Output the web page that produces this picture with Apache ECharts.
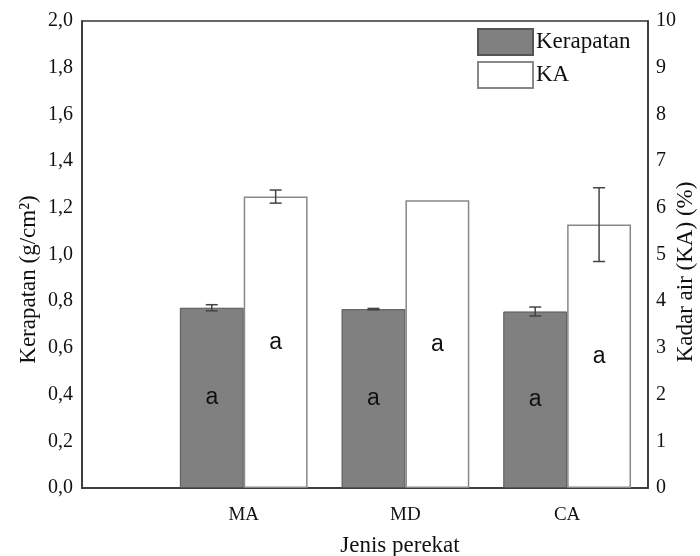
<!DOCTYPE html>
<html><head><meta charset="utf-8">
<script src="https://cdn.jsdelivr.net/npm/echarts@6/dist/echarts.min.js"></script>
<style>html,body{margin:0;padding:0;background:#fff}#c{width:700px;height:556px}</style>
</head><body><div id="c"></div>
<script>
// ---- data ----
const categories = ['MA', 'MD', 'CA'];
const kerapatan = [0.772, 0.766, 0.756];
const kerapatanErr = [0.013, 0.003, 0.019];
const kadarAir = [6.24, 6.16, 5.64];
const kadarAirErr = [0.14, 0.0, 0.79];
const kerapatanLetters = ['a', 'a', 'a'];
const kadarAirLetters = ['a', 'a', 'a'];

// ---- layout helpers: half-step slots so the axis runs from 0 to 3.5 category units ----
const SLOTS = 8;
const slotOf = i => 2 * (i + 1);
const axisData = Array.from({length: SLOTS}, () => '');
categories.forEach((c, i) => { axisData[slotOf(i)] = c; });
function slotSeries(vals) {
  const arr = Array.from({length: SLOTS}, () => '-');
  vals.forEach((v, i) => { arr[slotOf(i)] = v; });
  return arr;
}
const BAR_FRAC = 0.79;
const serif = 'Liberation Serif, Times New Roman, serif';
const sans = 'Liberation Sans, Arial, sans-serif';

function errRender(side, cap) {
  return function (params, api) {
    const x = api.value(0), y = api.value(1), e = api.value(2);
    if (!e) return null;
    const band = api.size([1, 0])[0];
    const off = side * band * BAR_FRAC / 2;
    const t = api.coord([x, y + e]);
    const b = api.coord([x, y - e]);
    const cx = t[0] + off;
    const st = {stroke: '#444', lineWidth: 1.5};
    return {type: 'group', children: [
      {type: 'line', shape: {x1: cx, y1: t[1], x2: cx, y2: b[1]}, style: st},
      {type: 'line', shape: {x1: cx - cap, y1: t[1], x2: cx + cap, y2: t[1]}, style: st},
      {type: 'line', shape: {x1: cx - cap, y1: b[1], x2: cx + cap, y2: b[1]}, style: st}
    ]};
  };
}

const chart = echarts.init(document.getElementById('c'), null, {renderer: 'canvas'});
chart.setOption({
  animation: false,
  backgroundColor: '#fff',
  grid: {left: 82, right: 52, top: 21, bottom: 68, containLabel: false, outerBoundsMode: 'none',
    show: true, borderColor: '#333', borderWidth: 1.5, backgroundColor: 'transparent'},
  legend: {
    orient: 'vertical', left: 477, top: 28, padding: 0, itemGap: 5,
    itemWidth: 55, itemHeight: 26, icon: 'rect',
    textStyle: {fontFamily: serif, fontSize: 23, color: '#111', padding: [0, 0, 0, -2]},
    data: ['Kerapatan', 'KA']
  },
  xAxis: {
    type: 'category', data: axisData, boundaryGap: false,
    axisLine: {show: true, lineStyle: {color: '#333', width: 1.5}},
    axisTick: {show: false}, splitLine: {show: false},
    axisLabel: {interval: 0, fontFamily: serif, fontSize: 19, color: '#111', margin: 18},
    name: 'Jenis perekat', nameLocation: 'middle', nameGap: 46, nameMoveOverlap: false,
    nameTextStyle: {fontFamily: serif, fontSize: 23, color: '#111', padding: [0, 0, 0, 70]}
  },
  yAxis: [
    {
      type: 'value', min: 0, max: 2, interval: 0.2, position: 'left',
      axisLine: {show: true, lineStyle: {color: '#333', width: 1.5}},
      axisTick: {show: false}, splitLine: {show: false},
      axisLabel: {fontFamily: serif, fontSize: 20, color: '#111', margin: 9,
        formatter: v => v.toFixed(1).replace('.', ',')},
      name: 'Kerapatan (g/cm²)', nameLocation: 'middle', nameGap: 42, nameRotate: 90, nameMoveOverlap: false,
      nameTextStyle: {fontFamily: serif, fontSize: 23, color: '#111', padding: [0, 50, 0, 0]}
    },
    {
      type: 'value', min: 0, max: 10, interval: 1, position: 'right',
      axisLine: {show: true, lineStyle: {color: '#333', width: 1.5}},
      axisTick: {show: false}, splitLine: {show: false},
      axisLabel: {fontFamily: serif, fontSize: 20, color: '#111', margin: 8},
      name: 'Kadar air (KA) (%)', nameLocation: 'middle', nameGap: 26, nameRotate: 90, nameMoveOverlap: false,
      nameTextStyle: {fontFamily: serif, fontSize: 23, color: '#111', padding: [0, 35, 0, 0]}
    }
  ],
  series: [
    {
      name: 'Kerapatan', type: 'bar', yAxisIndex: 0, data: slotSeries(kerapatan),
      barWidth: (BAR_FRAC * 100) + '%', barGap: '0%',
      itemStyle: {color: '#808080', borderColor: '#555', borderWidth: 1},
      label: {show: true, position: 'inside', fontFamily: sans, fontSize: 23, color: '#111',
        formatter: p => kerapatanLetters[(p.dataIndex / 2) - 1]}
    },
    {
      name: 'KA', type: 'bar', yAxisIndex: 1, data: slotSeries(kadarAir),
      barWidth: (BAR_FRAC * 100) + '%', barGap: '0%',
      itemStyle: {color: '#fff', borderColor: '#888', borderWidth: 1.5},
      label: {show: true, position: 'inside', fontFamily: sans, fontSize: 23, color: '#111',
        formatter: p => kadarAirLetters[(p.dataIndex / 2) - 1]}
    },
    {
      type: 'custom', yAxisIndex: 0, z: 5, renderItem: errRender(-1, 6),
      data: kerapatan.map((v, i) => [slotOf(i), v, kerapatanErr[i]])
    },
    {
      type: 'custom', yAxisIndex: 1, z: 5, renderItem: errRender(1, 6),
      data: kadarAir.map((v, i) => [slotOf(i), v, kadarAirErr[i]])
    }
  ]
});
</script></body></html>
